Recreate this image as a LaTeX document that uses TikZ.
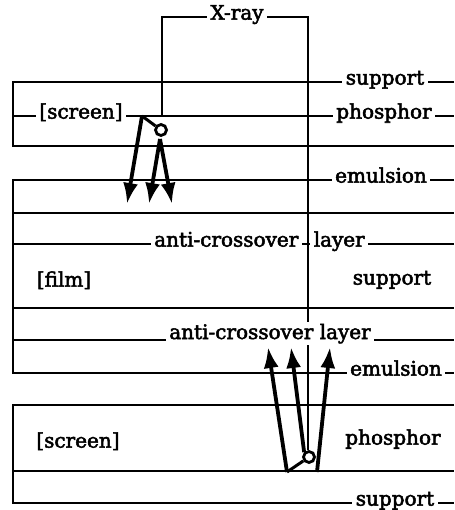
\documentclass[tikz,border=0pt]{standalone}
\usepackage{fontspec}
\setmainfont{DejaVu Serif}
\newfontfamily\labelfont{DejaVu Serif}[FakeBold=2.5]
\usetikzlibrary{arrows.meta}
\begin{document}
\begin{tikzpicture}[x=1pt,y=-1pt,
  sheet/.style={line width=2.6pt},
  ray/.style={line width=2.2pt},
  lbl/.style={fill=white,inner xsep=3.5pt,inner ysep=2pt,anchor=mid,
              font=\labelfont\fontsize{20}{22}\selectfont},
  txt/.style={inner sep=0pt,anchor=mid,font=\labelfont\fontsize{20}{22}\selectfont},
  light/.style={line width=3.8pt,-{Latex[length=21pt,width=15pt]}},
  link/.style={line width=3pt},
  spot/.style={circle,draw,line width=2.8pt,minimum size=11pt,inner sep=0pt,fill=white}
]
\useasboundingbox (0,0) rectangle (454,510);

% upper intensifying screen
\draw[sheet] (454,82) -- (13,82) -- (13,146) -- (454,146);
\draw[sheet] (13,116) -- (454,116);

% double-coated film
\draw[sheet] (454,180) -- (13,180) -- (13,373) -- (454,373);
\draw[sheet] (13,213) -- (454,213);
\draw[sheet] (13,244) -- (454,244);
\draw[sheet] (13,308) -- (454,308);
\draw[sheet] (13,340) -- (454,340);

% lower intensifying screen
\draw[sheet] (454,405) -- (13,405) -- (13,503) -- (454,503);
\draw[sheet] (13,471) -- (454,471);

% absorption points of the X-ray beam
\node[spot] (s1) at (161,130) {};
\node[spot] (s2) at (309,457) {};

% X-ray beam
\coordinate (xa) at (162,116);
\coordinate (xb) at (162,17);
\coordinate (xc) at (308,17);
\draw[ray] (xa) -- (xb) -- (xc) -- (s2.north -| xc);

% labels
\node[lbl] (xr) at (237,17) {X-ray};
\node[lbl] (sup1) at (385,82) {support};
\node[lbl] (scr1) at (81,116) {[screen]};
\node[lbl] (pho1) at (384,116) {phosphor};
\node[lbl] (emu1) at (381,180) {emulsion};
\node[lbl,anchor=mid east] (ac1) at (302,244) {anti-crossover};
\node[lbl,anchor=mid west] (lay1) at (310,244) {layer};
\node[txt] (film) at (64,284) {[film]};
\node[txt] (sup2) at (392,282) {support};
\node[lbl,anchor=base] (ac2) at (270,339) {anti-crossover layer};
\node[lbl] (emu2) at (396,373) {emulsion};
\node[txt] (scr2) at (78,445) {[screen]};
\node[txt] (pho2) at (393,442) {phosphor};
\node[lbl] (sup3) at (395,503) {support};

% light emitted by the upper screen
\coordinate (o1) at (142,116);
\coordinate (a1) at (160,139);
\coordinate (t1) at (127,204);
\coordinate (t2) at (149,204);
\coordinate (t3) at (172,204);
\draw[link] (o1) -- (s1);
\draw[light] (o1) -- (t1);
\draw[light] (a1) -- (t2);
\draw[light] (a1) -- (t3);

% light emitted by the lower screen
\coordinate (o2) at (287,472);
\coordinate (o3) at (317,472);
\coordinate (u1) at (268,347);
\coordinate (u2) at (291,347);
\coordinate (u3) at (330,347);
\draw[link] (o2) -- (s2);
\draw[light] (o2) -- (u1);
\draw[light] (s2.north west) -- (u2);
\draw[light] (o3) -- (u3);
\end{tikzpicture}
\end{document}
